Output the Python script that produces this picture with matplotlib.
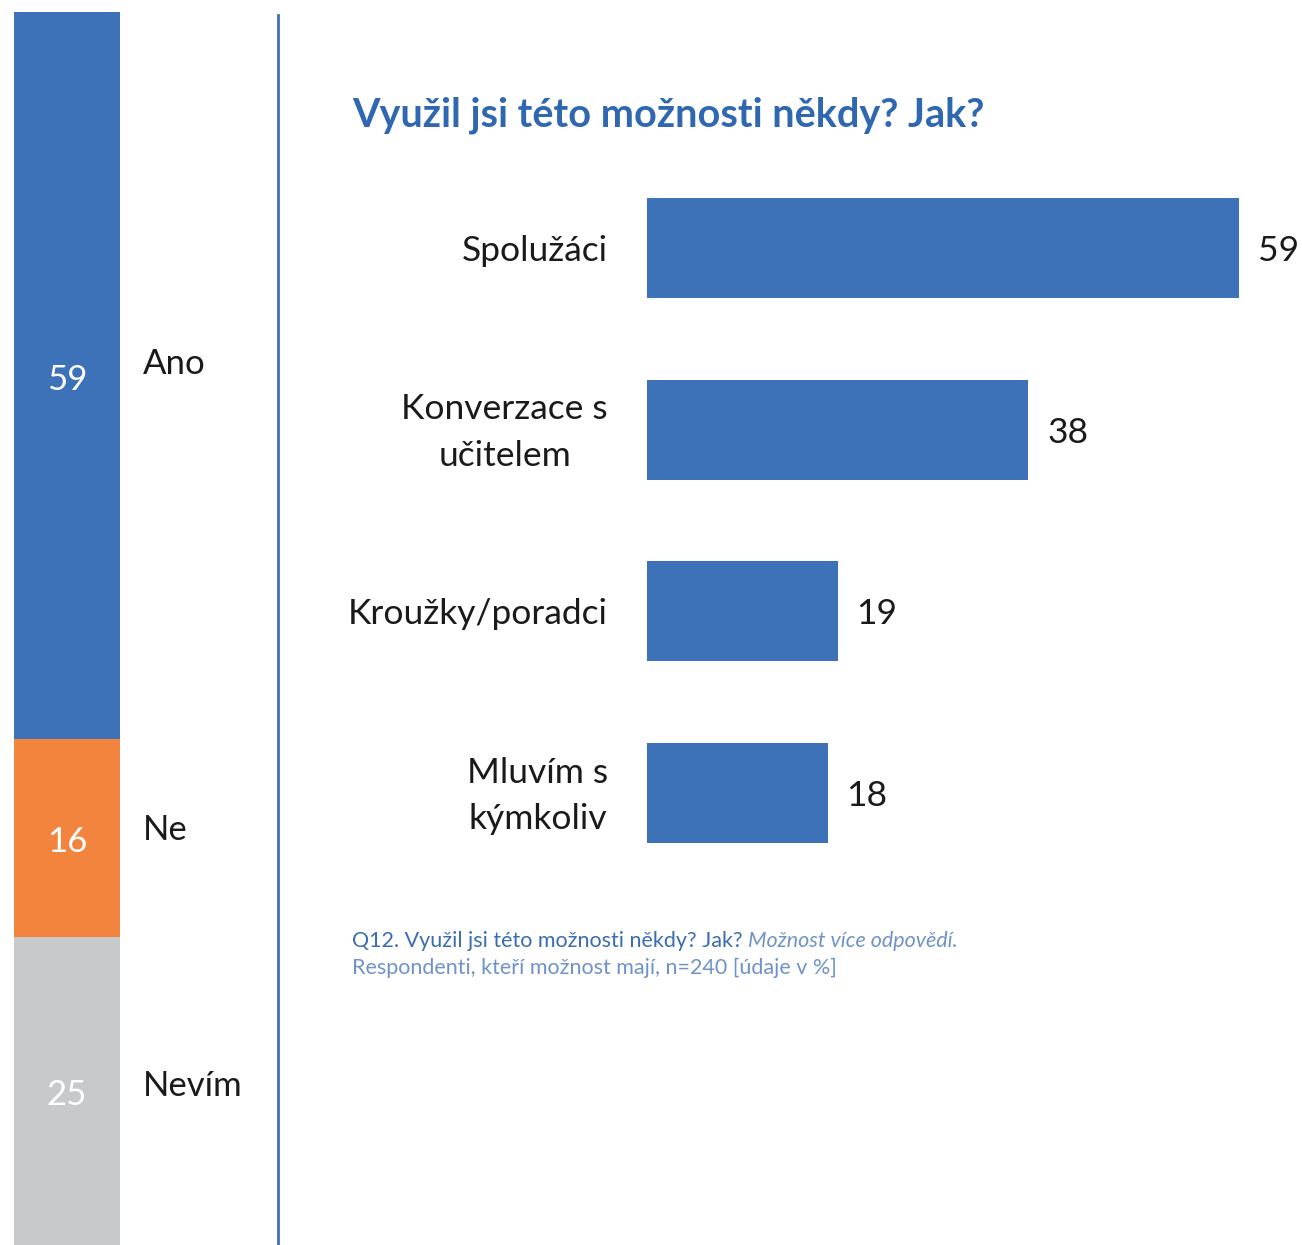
"""Recreate the 'Využil jsi této možnosti někdy? Jak?' chart."""

import matplotlib
matplotlib.use("Agg")
import matplotlib.pyplot as plt

# --- data -------------------------------------------------------------
answer_labels = ["Ano", "Ne", "Nevím"]
answer_values = [59, 16, 25]

how_labels = ["Spolužáci", "Konverzace s\nučitelem", "Kroužky/poradci", "Mluvím s\nkýmkoliv"]
how_values = [59, 38, 19, 18]

title = "Využil jsi této možnosti někdy? Jak?"
note_question = "Q12. Využil jsi této možnosti někdy? Jak?"
note_italic = "Možnost více odpovědí."
note_base = "Respondenti, kteří možnost mají, n=240 [údaje v %]"

BLUE = "#3d72b8"
ORANGE = "#f3843e"
GRAY = "#c8c9ca"
TITLE_BLUE = "#2f68b0"
NOTE_BLUE = "#3a6db3"
NOTE_LIGHT = "#6f93c9"
TEXT = "#1a1a1a"

W, H = 1302, 1245
plt.rcParams["font.family"] = ["Lato", "DejaVu Sans"]

fig = plt.figure(figsize=(W / 100, H / 100), dpi=100)


def px_axes(x0, y0, x1, y1):
    """Axes from pixel box (top-left origin)."""
    return fig.add_axes([x0 / W, 1 - y1 / H, (x1 - x0) / W, (y1 - y0) / H])


# --- left stacked bar ---------------------------------------------------
axl = px_axes(14, 12, 264, 1245)
axl.set_xlim(0, 250)
axl.set_ylim(100, 0)
axl.axis("off")
colors = [BLUE, ORANGE, GRAY]
label_shift = [-16, -12, -9]  # pixels, label sits a bit above the number
start = 0
for lab, val, col, dy in zip(answer_labels, answer_values, colors, label_shift):
    axl.bar(53, val, width=106, bottom=start, color=col, linewidth=0)
    mid = start + val / 2
    axl.annotate(str(val), xy=(53, mid), xytext=(0, -4), textcoords="offset pixels",
                 color="white", fontsize=25, ha="center", va="center")
    axl.annotate(lab, xy=(129, mid), xytext=(0, -4 - dy), textcoords="offset pixels",
                 color=TEXT, fontsize=25, ha="left", va="center")
    start += val

# separator line
fig.add_artist(plt.Line2D([278 / W, 278 / W], [0, 1 - 15 / H], color=BLUE, linewidth=2))

# --- right horizontal bars -------------------------------------------
axr = px_axes(647, 157, 1299, 884)
axr.set_xlim(0, 65)
axr.set_ylim(len(how_values) - 0.5, -0.5)
ypos = list(range(len(how_values)))
axr.barh(ypos, how_values, height=0.55, color=BLUE, linewidth=0)
for y, v in zip(ypos, how_values):
    axr.annotate(str(v), xy=(v, y), xytext=(19, -3), textcoords="offset pixels",
                 fontsize=25.5, color=TEXT, ha="left", va="center")
for y, lab in zip(ypos, how_labels):
    axr.annotate(lab, xy=(0, y), xytext=(-39, -3), textcoords="offset pixels",
                 ha="right", va="center", multialignment="center",
                 fontsize=25.5, color=TEXT, linespacing=1.55)
for s in axr.spines.values():
    s.set_visible(False)
axr.set_xticks([])
axr.set_yticks([])

# --- title and notes --------------------------------------------------
fig.text(352 / W, 1 - 115 / H, title, fontsize=28.5, fontweight="bold",
         color=TITLE_BLUE, ha="left", va="center")
t1 = fig.text(352 / W, 1 - 941 / H, note_question + " ", fontsize=15.5,
              color=NOTE_BLUE, ha="left", va="center")
fig.canvas.draw()
bb = t1.get_window_extent()
fig.text(bb.x1 / W, 1 - 941 / H, note_italic, fontsize=15.5, style="italic",
         color=NOTE_LIGHT, ha="left", va="center")
fig.text(352 / W, 1 - 968 / H, note_base, fontsize=15.5,
         color=NOTE_LIGHT, ha="left", va="center")

fig.savefig("out.png", dpi=100)
